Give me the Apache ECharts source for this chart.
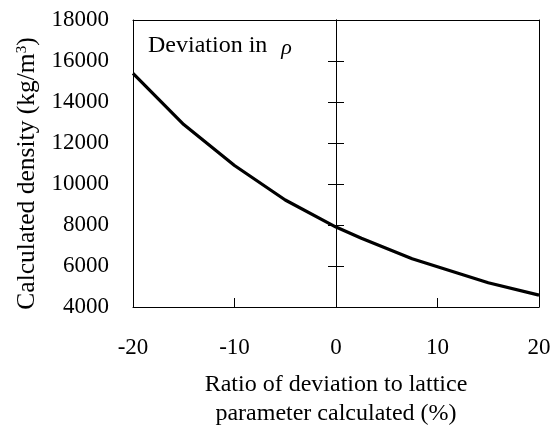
<!DOCTYPE html>
<html><head><meta charset="utf-8">
<script src="https://cdn.jsdelivr.net/npm/echarts@6/dist/echarts.min.js"></script>
<style>html,body{margin:0;padding:0;background:#fff}#c{width:551px;height:425px}</style>
</head><body><div id="c"></div>
<script>
var ratio = [-20, -15, -10, -5, 0, 2.5, 7.5, 15, 20];
var density = [15400, 12900, 10900, 9220, 7900, 7350, 6350, 5180, 4580];
var xTicks = {min: -20, max: 20, interval: 10};
var yTicks = {min: 4000, max: 18000, interval: 2000};
var zeroLineTicks = [6000, 8000, 10000, 12000, 14000, 16000];
var FONT = 'Liberation Serif';
var grid = {left: 133, right: 12, top: 20, bottom: 118, containLabel: false, outerBoundsMode: 'none'};
var chart = echarts.init(document.getElementById('c'));
var lineStyle = {color: '#000', width: 1};
function plain(v) { return String(v); }
chart.setOption({
  animation: false,
  grid: [Object.assign({}, grid), Object.assign({}, grid), Object.assign({}, grid)],
  xAxis: [
    {gridIndex: 0, type: 'value', position: 'bottom', min: xTicks.min, max: xTicks.max, interval: xTicks.interval,
     axisLine: {onZero: false, lineStyle: lineStyle}, axisTick: {inside: true, length: 9, lineStyle: lineStyle},
     splitLine: {show: false},
     axisLabel: {fontFamily: FONT, fontSize: 23, color: '#000', margin: 29, formatter: plain},
     name: 'Ratio of deviation to lattice\nparameter calculated (%)', nameLocation: 'middle', nameGap: 63,
     nameTextStyle: {fontFamily: FONT, fontSize: 24, color: '#000', lineHeight: 29}},
    {gridIndex: 0, type: 'value', position: 'top', min: xTicks.min, max: xTicks.max, interval: xTicks.interval,
     axisLine: {onZero: false, lineStyle: lineStyle}, axisTick: {show: false}, axisLabel: {show: false}, splitLine: {show: false}},
    {gridIndex: 1, type: 'value', show: false, min: xTicks.min, max: xTicks.max},
    {gridIndex: 2, type: 'value', show: false, min: xTicks.min, max: xTicks.max}
  ],
  yAxis: [
    {gridIndex: 0, type: 'value', position: 'left', min: yTicks.min, max: yTicks.max, interval: yTicks.interval,
     axisLine: {show: true, onZero: false, lineStyle: lineStyle}, axisTick: {show: false}, splitLine: {show: false},
     axisLabel: {fontFamily: FONT, fontSize: 23, color: '#000', margin: 24, formatter: plain},
     name: '{t|Calculated density (kg/m}{s|3}{t|)}', nameLocation: 'middle', nameGap: 91, nameRotate: 90,
     nameTextStyle: {padding: [0, 20, 0, 0], rich: {t: {fontFamily: FONT, fontSize: 25.5, color: '#000'}, s: {fontFamily: FONT, fontSize: 15, color: '#000', verticalAlign: 'top', padding: [0, 0, 10, 0]}}}},
    {gridIndex: 0, type: 'value', position: 'right', min: yTicks.min, max: yTicks.max, interval: yTicks.interval,
     axisLine: {show: true, onZero: false, lineStyle: lineStyle}, axisTick: {show: false}, axisLabel: {show: false}, splitLine: {show: false}},
    {gridIndex: 1, type: 'value', position: 'left', min: yTicks.min, max: yTicks.max, interval: yTicks.interval,
     axisLine: {show: true, onZero: true, lineStyle: lineStyle}, axisTick: {inside: true, length: 8, lineStyle: lineStyle, customValues: zeroLineTicks},
     axisLabel: {show: false}, splitLine: {show: false}},
    {gridIndex: 2, type: 'value', position: 'left', min: yTicks.min, max: yTicks.max, interval: yTicks.interval,
     axisLine: {show: true, onZero: true, lineStyle: lineStyle}, axisTick: {inside: false, length: 8, lineStyle: lineStyle, customValues: zeroLineTicks},
     axisLabel: {show: false}, splitLine: {show: false}}
  ],
  graphic: [{
    type: 'text', left: 148, top: 34,
    style: {text: '{a|Deviation in}{b|ρ}', rich: {
      a: {fontFamily: FONT, fontSize: 24, fill: '#000'},
      b: {fontFamily: FONT, fontSize: 22, fontStyle: 'italic', fill: '#000', padding: [4, 0, 0, 14]}}}
  }],
  series: [{
    type: 'line', xAxisIndex: 0, yAxisIndex: 0,
    data: ratio.map(function (r, i) { return [r, density[i]]; }),
    showSymbol: false, symbol: 'none',
    lineStyle: {color: '#000', width: 3.2}
  }]
});
</script></body></html>
